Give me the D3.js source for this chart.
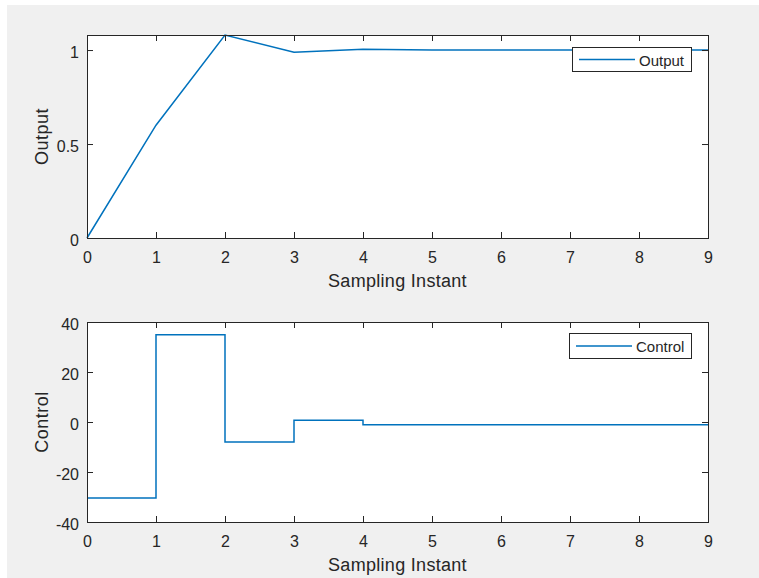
<!DOCTYPE html>
<html>
<head>
<meta charset="utf-8">
<title>Output and Control</title>
<script src="https://d3js.org/d3.v7.min.js"></script>
<style>
  body { margin: 0; background: #ffffff; }
  svg { display: block; }
  text { font-family: "Liberation Sans", Arial, Helvetica, sans-serif; fill: #262626; }
</style>
</head>
<body>
<div id="my_dataviz"></div>
<script>

// values
var steps = [0, 1, 2, 3, 4, 5, 6, 7, 8, 9];
var outputValues = [0, 0.60, 1.08, 0.988, 1.004, 1.0, 1.0, 1.0, 1.0, 1.0];
var controlValues = [-30.4, 34.9, -8.0, 0.7, -1.1, -1.1, -1.1, -1.1, -1.1, -1.1];
var xTicks = [0, 1, 2, 3, 4, 5, 6, 7, 8, 9];
var outputTicks = [0, 0.5, 1];
var controlTicks = [-40, -20, 0, 20, 40];

var W = 759, H = 578;
var lineColor = "#0072bd", axisColor = "#262626";

var svg = d3.select("#my_dataviz")
  .append("svg")
    .attr("width", W)
    .attr("height", H);

// figure background
svg.append("rect")
  .attr("x", 7).attr("y", 5)
  .attr("width", W - 7).attr("height", H - 5)
  .attr("fill", "#f0f0f0");

// plain hyphen minus, like the original
function plain(d) { return String(d); }

function drawPanel(p) {
  var x = d3.scaleLinear().domain([0, 9]).range([p.left, p.right]);
  var y = d3.scaleLinear().domain(p.yDomain).range([p.bottom, p.top]);
  var g = svg.append("g");

  // plot area
  g.append("rect")
    .attr("x", p.left).attr("y", p.top)
    .attr("width", p.right - p.left).attr("height", p.bottom - p.top)
    .attr("fill", "#ffffff");

  // data line
  var line = d3.line()
    .x(function (d, i) { return x(steps[i]); })
    .y(function (d) { return y(d); })
    .curve(p.curve);
  g.append("path")
    .datum(p.values)
    .attr("d", line)
    .attr("fill", "none")
    .attr("stroke", lineColor)
    .attr("stroke-width", 1.5);

  // axes, ticks pointing inwards on every side
  g.append("g")
    .attr("transform", "translate(0," + p.bottom + ")")
    .call(d3.axisBottom(x).tickValues(xTicks).tickFormat(plain).tickSizeInner(-6).tickSizeOuter(0).tickPadding(14));
  var leftAxis = g.append("g")
    .attr("transform", "translate(" + p.left + ",0)")
    .call(d3.axisLeft(y).tickValues(p.yTicks).tickFormat(plain).tickSizeInner(-6).tickSizeOuter(0).tickPadding(8));
  g.append("g")
    .attr("transform", "translate(0," + p.top + ")")
    .call(d3.axisTop(x).tickValues(xTicks).tickFormat("").tickSizeInner(-6).tickSizeOuter(0));
  g.append("g")
    .attr("transform", "translate(" + p.right + ",0)")
    .call(d3.axisRight(y).tickValues(p.yTicks).tickFormat("").tickSizeInner(-6).tickSizeOuter(0));

  g.selectAll(".domain").remove();
  g.selectAll(".tick line").attr("stroke", axisColor);
  g.selectAll(".tick text")
    .attr("fill", axisColor)
    .style("font-size", "16px")
    .attr("font-family", null);
  leftAxis.selectAll(".tick text").attr("dy", "0.48em");

  // box
  g.append("rect")
    .attr("x", p.left + 0.5).attr("y", p.top + 0.5)
    .attr("width", p.right - p.left).attr("height", p.bottom - p.top)
    .attr("fill", "none")
    .attr("stroke", axisColor)
    .attr("stroke-width", 1);

  // axis labels
  g.append("text")
    .attr("x", (p.left + p.right) / 2)
    .attr("y", p.bottom + 49)
    .attr("text-anchor", "middle")
    .style("font-size", "18px")
    .style("letter-spacing", "0.3px")
    .text("Sampling Instant");
  g.append("text")
    .attr("transform", "translate(48," + (p.top + p.bottom) / 2 + ") rotate(-90)")
    .attr("text-anchor", "middle")
    .style("font-size", "18px")
    .style("letter-spacing", "0.5px")
    .text(p.label);

  // legend
  var lg = p.legend;
  g.append("rect")
    .attr("x", lg.x + 0.5).attr("y", lg.y + 0.5)
    .attr("width", lg.w).attr("height", lg.h)
    .attr("fill", "#ffffff")
    .attr("stroke", axisColor);
  g.append("line")
    .attr("x1", lg.x + 7).attr("x2", lg.x + 63)
    .attr("y1", lg.y + lg.h / 2 + 0.5).attr("y2", lg.y + lg.h / 2 + 0.5)
    .attr("stroke", lineColor)
    .attr("stroke-width", 1.5);
  g.append("text")
    .attr("x", lg.x + 67)
    .attr("y", lg.y + lg.h / 2 + 1)
    .attr("dominant-baseline", "central")
    .style("font-size", "15px")
    .text(p.label);
}

drawPanel({
  left: 87, right: 708, top: 35, bottom: 238,
  yDomain: [0, 1.08], yTicks: outputTicks,
  values: outputValues, curve: d3.curveLinear,
  label: "Output",
  legend: {x: 572, y: 47, w: 119, h: 24}
});

drawPanel({
  left: 87, right: 708, top: 322, bottom: 522,
  yDomain: [-40, 40], yTicks: controlTicks,
  values: controlValues, curve: d3.curveStepAfter,
  label: "Control",
  legend: {x: 569, y: 333, w: 122, h: 25}
});

</script>
</body>
</html>
